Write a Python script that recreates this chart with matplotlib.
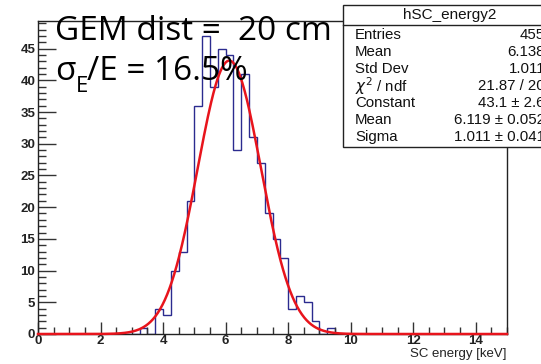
import numpy as np
import matplotlib
matplotlib.use("Agg")
import matplotlib.pyplot as plt
from matplotlib.ticker import MultipleLocator

# ---- data ----
bin_edges_range = (0.0, 15.0)
# 60 bins of 0.25 keV
counts = [0, 0, 0, 0, 0, 0, 0, 0, 0, 0,      # 0.00 - 2.50
          0, 0, 0, 1, 0, 4, 3, 10, 13, 21,   # 2.50 - 5.00
          36, 47, 39, 45, 44, 29, 41, 31, 27, 19,  # 5.00 - 7.50
          15, 12, 4, 6, 5, 2, 0, 1, 0, 0,    # 7.50 - 10.00
          0, 0, 0, 0, 0, 0, 0, 0, 0, 0,      # 10.00 - 12.50
          0, 0, 0, 0, 0, 0, 0, 0, 0, 0]      # 12.50 - 15.00
fit_constant = 43.1
fit_mean = 6.119
fit_sigma = 1.011
x_ticks = [0, 2, 4, 6, 8, 10, 12, 14]
y_ticks = [0, 5, 10, 15, 20, 25, 30, 35, 40, 45]
stats_title = "hSC_energy2"
stats_labels = ["Entries", "Mean", "Std Dev", r"$\chi^{2}$ / ndf", "Constant", "Mean", "Sigma"]
stats_values = ["455", "6.138", "1.011", "21.87 / 20", "43.1 ± 2.6", "6.119 ± 0.052", "1.011 ± 0.041"]
x_label = "SC energy [keV]"
line1 = "GEM dist =  20 cm"
line2_value = "/E = 16.5%"

W, H = 541, 364
fig = plt.figure(figsize=(W / 100, H / 100), dpi=100)
ax = fig.add_axes([38 / W, 1 - 334 / H, (507 - 38) / W, (334 - 21) / H])

edges = np.linspace(bin_edges_range[0], bin_edges_range[1], len(counts) + 1)
ax.stairs(counts, edges, color="#2b2b8f", linewidth=1.0)

xf = np.linspace(bin_edges_range[0], bin_edges_range[1], 600)
yf = fit_constant * np.exp(-0.5 * ((xf - fit_mean) / fit_sigma) ** 2)
ax.plot(xf, yf, color="#e8141c", linewidth=1.8, clip_on=False, zorder=3)

ax.set_xlim(bin_edges_range)
ax.set_ylim(0, max(counts) * 1.05)
ax.set_xticks(x_ticks)
ax.set_yticks(y_ticks)
ax.xaxis.set_minor_locator(MultipleLocator(0.5))
ax.yaxis.set_minor_locator(MultipleLocator(1))
ax.tick_params(which="both", direction="in", top=False, right=False, colors="#333333",
               labelcolor="#222222")
ax.tick_params(axis="x", which="major", length=9, width=1, pad=1, labelsize=9.5)
ax.tick_params(axis="x", which="minor", length=5, width=1)
ax.tick_params(axis="y", which="major", length=13, width=1, pad=2, labelsize=9.5)
ax.tick_params(axis="y", which="minor", length=6, width=1)
for lab in ax.get_xticklabels() + ax.get_yticklabels():
    lab.set_fontfamily("Liberation Sans")
    lab.set_fontweight("bold")
for s in ax.spines.values():
    s.set_color("#222222")
    s.set_linewidth(1.0)

fig.text(507 / W, 1 - 354 / H, x_label, ha="right", va="center",
         fontsize=9.5, family="Liberation Sans", color="#222222")

# big annotation texts
big_font = "Open Sans"
fig.text(55 / W, 1 - 40 / H, line1, ha="left", va="baseline", fontsize=24,
         family=big_font, color="black", zorder=10)
fig.text(55 / W, 1 - 80 / H, "σ", ha="left", va="baseline", fontsize=24,
         family=big_font, color="black", zorder=10)
fig.text(76 / W, 1 - 92 / H, "E", ha="left", va="baseline", fontsize=16,
         family=big_font, color="black", zorder=10)
fig.text(87 / W, 1 - 80 / H, line2_value, ha="left", va="baseline", fontsize=24,
         family=big_font, color="black", zorder=10)

# stats box
bx0, by0, bx1, by1 = 343, 5, 557, 147
rect = plt.Rectangle((bx0 / W, 1 - by1 / H), (bx1 - bx0) / W, (by1 - by0) / H,
                     transform=fig.transFigure, facecolor="white",
                     edgecolor="#222222", linewidth=1.0, zorder=20)
fig.add_artist(rect)
fig.add_artist(plt.Line2D([bx0 / W, bx1 / W], [1 - 25 / H, 1 - 25 / H],
                          transform=fig.transFigure, color="#222222",
                          linewidth=1.0, zorder=21))
fig.text(450 / W, 1 - 15 / H, stats_title, ha="center", va="center",
         fontsize=11, family="Liberation Sans", color="#111111", zorder=22)
row_y = [35, 52, 69, 86, 103, 120, 137]
for lab, val, yy in zip(stats_labels, stats_values, row_y):
    fig.text(355 / W, 1 - yy / H, lab, ha="left", va="center", fontsize=10.8,
             family="Liberation Sans", color="#111111", zorder=22)
    fig.text(545 / W, 1 - yy / H, val, ha="right", va="center", fontsize=10.8,
             family="Liberation Sans", color="#111111", zorder=22)

fig.savefig("out.png", dpi=100)
